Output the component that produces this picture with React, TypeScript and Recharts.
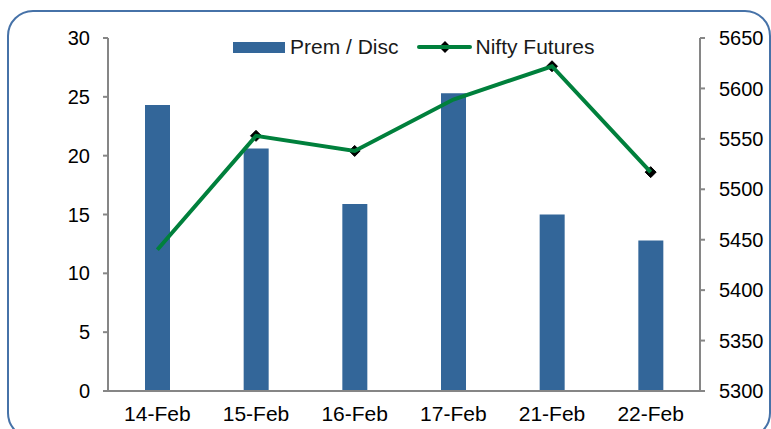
import React from 'react';
import {
  ComposedChart,
  Bar,
  Line,
  XAxis,
  YAxis,
  Legend
} from 'recharts';

const dates = ['14-Feb', '15-Feb', '16-Feb', '17-Feb', '21-Feb', '22-Feb'];
const premDisc = [24.3, 20.6, 15.9, 25.3, 15.0, 12.8];
const niftyFutures = [5440, 5553, 5538, 5589, 5622, 5517];
const leftTicks = [0, 5, 10, 15, 20, 25, 30];
const rightTicks = [5300, 5350, 5400, 5450, 5500, 5550, 5600, 5650];

const BAR_COLOR = '#336699';
const LINE_COLOR = '#00803c';
const AXIS_COLOR = '#868686';
const FONT = '"Liberation Sans", Arial, sans-serif';

const W = 771;
const H = 429;
const MARGIN = { top: 38, right: 11, bottom: 8, left: 48 };

const data = dates.map((d, i) => ({
  date: d,
  prem: premDisc[i],
  nifty: niftyFutures[i]
}));

// black diamond marker
const Diamond = (props: any) => {
  const { cx, cy } = props;
  if (cx == null || cy == null) return null;
  const r = 5.5;
  return (
    <polygon
      points={`${cx},${cy - r} ${cx + r},${cy} ${cx},${cy + r} ${cx - r},${cy}`}
      fill="#000"
      stroke="#000"
      strokeWidth={1}
    />
  );
};

const renderLegend = () => (
  <div
    style={{
      display: 'flex',
      alignItems: 'center',
      fontSize: 21,
      fontFamily: FONT,
      color: '#1a1a1a',
      whiteSpace: 'nowrap'
    }}
  >
    <span style={{ display: 'inline-block', width: 52, height: 11, background: BAR_COLOR, marginRight: 5 }} />
    <span>Prem / Disc</span>
    <svg width={55} height={14} style={{ marginLeft: 18, marginRight: 4 }}>
      <polygon points="28,1 34,7 28,13 22,7" fill="#000" />
      <line x1={2} y1={7} x2={53} y2={7} stroke={LINE_COLOR} strokeWidth={4} strokeLinecap="round" />
    </svg>
    <span>Nifty Futures</span>
  </div>
);

const tickStyle = { fill: '#000', fontSize: 20, fontFamily: FONT };
const xTickStyle = { fill: '#000', fontSize: 21, fontFamily: FONT };

// same axes in both layers so the scales line up
const axes = (show: boolean) => [
  <XAxis
    key="x"
    dataKey="date"
    tickLine={false}
    axisLine={show ? { stroke: AXIS_COLOR, strokeWidth: 2 } : false}
    tick={show ? xTickStyle : false}
    tickMargin={9}
    height={30}
    interval={0}
  />,
  <YAxis
    key="yl"
    yAxisId="left"
    domain={[0, 30]}
    ticks={leftTicks}
    width={60}
    axisLine={show ? { stroke: AXIS_COLOR, strokeWidth: 2 } : false}
    tickLine={show ? { stroke: AXIS_COLOR, strokeWidth: 2 } : false}
    tickSize={5}
    tickMargin={13}
    tick={show ? tickStyle : false}
    interval={0}
  />,
  <YAxis
    key="yr"
    yAxisId="right"
    orientation="right"
    domain={[5300, 5650]}
    ticks={rightTicks}
    width={60}
    axisLine={show ? { stroke: AXIS_COLOR, strokeWidth: 2 } : false}
    tickLine={show ? { stroke: AXIS_COLOR, strokeWidth: 2 } : false}
    tickSize={5}
    tickMargin={14}
    tick={show ? tickStyle : false}
    interval={0}
  />
];

export default function App() {
  return (
    <div style={{ position: 'fixed', left: 0, top: 0, width: W, height: H, background: '#fff', overflow: 'hidden' }}>
      <div
        style={{
          position: 'absolute',
          left: 7,
          top: 10,
          width: 760,
          height: 425,
          border: '2px solid #4672a8',
          borderRadius: 26
        }}
      />
      {/* bottom layer: markers, covered by the bars above */}
      <div style={{ position: 'absolute', left: 0, top: 0 }}>
        <ComposedChart width={W} height={H} data={data} margin={MARGIN}>
          {axes(false)}
          <Bar
            yAxisId="left"
            dataKey="prem"
            fill="none"
            barSize={25}
            legendType="none"
            isAnimationActive={false}
          />
          <Line
            yAxisId="right"
            dataKey="nifty"
            stroke="none"
            dot={<Diamond />}
            activeDot={false}
            legendType="none"
            isAnimationActive={false}
          />
        </ComposedChart>
      </div>
      {/* top layer: bars, line, axes, legend */}
      <div style={{ position: 'absolute', left: 0, top: 0 }}>
        <ComposedChart width={W} height={H} data={data} margin={MARGIN}>
          {axes(true)}
          <Legend
            verticalAlign="middle"
            align="center"
            content={renderLegend}
            wrapperStyle={{ top: 35, left: 233, width: 'auto' }}
          />
          <Bar
            yAxisId="left"
            dataKey="prem"
            name="Prem / Disc"
            fill={BAR_COLOR}
            barSize={25}
            isAnimationActive={false}
          />
          <Line
            yAxisId="right"
            dataKey="nifty"
            name="Nifty Futures"
            type="linear"
            stroke={LINE_COLOR}
            strokeWidth={4}
            dot={false}
            activeDot={false}
            isAnimationActive={false}
          />
        </ComposedChart>
      </div>
    </div>
  );
}
